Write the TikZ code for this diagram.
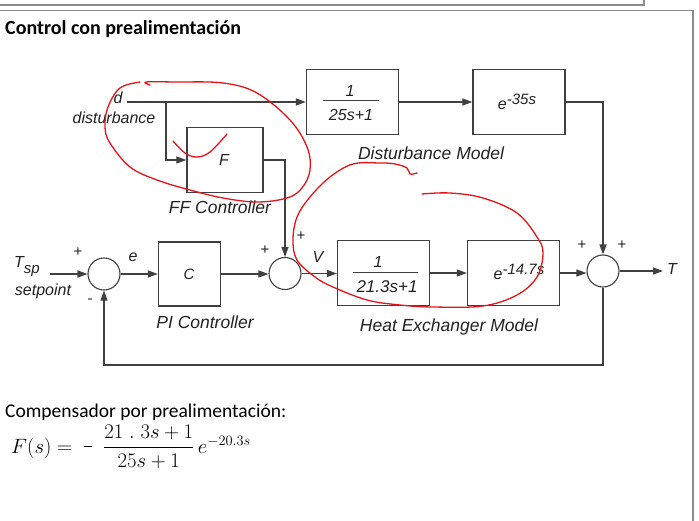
\documentclass[tikz,border=0pt]{standalone}
\usepackage{amsmath}
\usepackage{fontspec}
\setmainfont{Liberation Sans}
\newfontfamily\calfont{Carlito}
\usetikzlibrary{arrows.meta}
\definecolor{lc}{HTML}{404040}
\definecolor{tc}{HTML}{222222}
\definecolor{fr}{HTML}{8C8C8C}
\definecolor{scr}{HTML}{E3141B}
\begin{document}
\begin{tikzpicture}[x=1pt,y=-1pt,
  line/.style={draw=lc, line width=1.2pt},
  arr/.style={line, -{Triangle[length=10pt,width=7pt]}},
  blk/.style={draw=lc, line width=1.3pt, minimum width=92pt, minimum height=65pt, inner sep=0pt},
  sumn/.style={circle, draw=lc, line width=1.1pt, minimum size=32pt, inner sep=0pt},
  lbl/.style={font=\fontsize{16}{18}\selectfont\itshape, text=tc, inner sep=0pt},
  biglbl/.style={lbl, font=\fontsize{17.5}{20}\selectfont\itshape},
  pm/.style={font=\fontsize{15}{17}\selectfont, text=tc, inner sep=0pt},
  scrib/.style={draw=scr, line width=1.3pt, line cap=round, line join=round}
]
\fill[white] (0,0) rectangle (699,521);
\useasboundingbox (0,0) rectangle (699,521);
% frame
\draw[fr, line width=1.6pt] (0,5) -- (644,5) -- (644,0);
\draw[fr, line width=1.6pt] (0,10.5) -- (693,10.5) -- (693,521);
% title
\node[anchor=base west, inner sep=0pt, font=\calfont\bfseries\fontsize{20}{23}\selectfont] (title) at (5,35) {Control con prealimentación};

% blocks
\node[blk] (d1) at (352.5,102) {};
\node[blk] (d2) at (519,102) {};
\node[blk, minimum width=76pt] (ff) at (225,160) {};
\node[blk, minimum width=62pt, minimum height=64pt] (pi) at (189.5,274) {};
\node[blk] (h1) at (383.5,273) {};
\node[blk] (h2) at (513.5,273) {};
\node[sumn] (s1) at (104,274) {};
\node[sumn] (s2) at (285,273.5) {};
\node[sumn] (s3) at (603,271) {};

% block contents
\node[lbl] (d1n) at (350,91) {1};
\draw[line, line width=1pt] (323,101) -- (379,101);
\node[lbl] (d1d) at (351,115) {25s+1};
\node[lbl, anchor=base] (d2t) at (517,110) {e\raisebox{5pt}{\fontsize{15}{17}\selectfont -35s}};
\node[lbl] (fft) at (224,160) {F};
\node[lbl, font=\fontsize{15}{17}\selectfont\itshape] (pit) at (189,274) {C};
\node[lbl] (h1n) at (378,262) {1};
\draw[line, line width=1pt] (353,273) -- (418,273);
\node[lbl, font=\fontsize{17}{19}\selectfont\itshape] (h1d) at (387,287) {21.3s+1};
\node[lbl, anchor=base] (h2t) at (519,280) {e\raisebox{5pt}{\fontsize{15}{17}\selectfont -14.7s}};

% labels
\node[lbl] (dl) at (118,98) {d};
\node[lbl] (distl) at (114,118) {disturbance};
\node[biglbl] (ffl) at (220,207) {FF Controller};
\node[biglbl] (dml) at (431,153) {Disturbance Model};
\node[biglbl] (pil) at (205,322) {PI Controller};
\node[biglbl] (hml) at (449,327) {Heat Exchanger Model};
\node[lbl] (tsp) at (27,267) {T\raisebox{-6pt}{\fontsize{15}{17}\selectfont sp}};
\node[lbl] (setp) at (43,291) {setpoint};
\node[lbl] (el) at (133,257) {e};
\node[lbl] (vl) at (318,257) {V};
\node[lbl] (tl) at (672,269) {T};
\node[pm] (p1) at (78,252) {+};
\node[pm] (m1) at (90,301) {-};
\node[pm] (p2) at (265,250) {+};
\node[pm] (p3) at (301,236) {+};
\node[pm] (p4) at (582,245) {+};
\node[pm] (p5) at (622,245) {+};

% connectors
\coordinate (dstart) at (127,102);
\coordinate (br) at (166,102);
\coordinate (tin) at (50,274);
\coordinate (tout) at (663,271);
\coordinate (fb) at (603,365);
\draw[arr] (dstart) -- (d1.west);
\draw[arr] (br) |- (ff.west);
\draw[arr] (d1.east) -- (d2.west);
\draw[arr] (d2.east) -| (s3.north);
\draw[arr] (ff.east) -| (s2.north);
\draw[arr] (tin) -- (s1.west);
\draw[arr] (s1.east) -- (pi.west);
\draw[arr] (pi.east) -- (pi.east -| s2.west);
\draw[arr] (s2.east) -- (s2.east -| h1.west);
\draw[arr] (h1.east) -- (h2.west);
\draw[arr] (h2.east) -- (h2.east -| s3.west);
\draw[arr] (s3.east) -- (tout);
\draw[arr] (s3.south) -- (fb) -| (s1.south);

% red scribbles
\draw[scrib] plot[smooth, tension=0.6] coordinates {(150,85) (146,82) (175,82) (223,83) (257,93) (290,120) (307,147) (310,170) (302,188) (287,198) (257,202) (223,198) (190,190) (157,180) (130,167) (110,143) (105,127) (108,107) (120,88) (140,82)};
\draw[scrib] plot[smooth, tension=0.6] coordinates {(173,141) (185,153) (197,157) (210,152) (227,134)};
\draw[scrib] plot[smooth, tension=0.6] coordinates {(417,173) (410,174) (407,168) (395,164) (380,163) (353,164) (330,177) (310,197) (297,217) (293,240) (297,260) (315,277) (333,287) (367,300) (400,305) (433,307) (483,306) (517,295) (537,277) (543,253) (537,237) (517,213) (483,198) (450,193) (422,194)};

% bottom text
\node[anchor=base west, inner sep=0pt, font=\calfont\fontsize{19.5}{22}\selectfont] (comp) at (5,417) {Compensador por prealimentación:};
\node[anchor=base west, inner sep=0pt, font=\fontsize{21}{25}\selectfont] (formula) at (11,453) {$F(s) = \;\rule[6.5pt]{8pt}{0.9pt}\;\;\dfrac{21\;.\;3s+1}{25s+1}\,e^{-20.3s}$};
\end{tikzpicture}
\end{document}
